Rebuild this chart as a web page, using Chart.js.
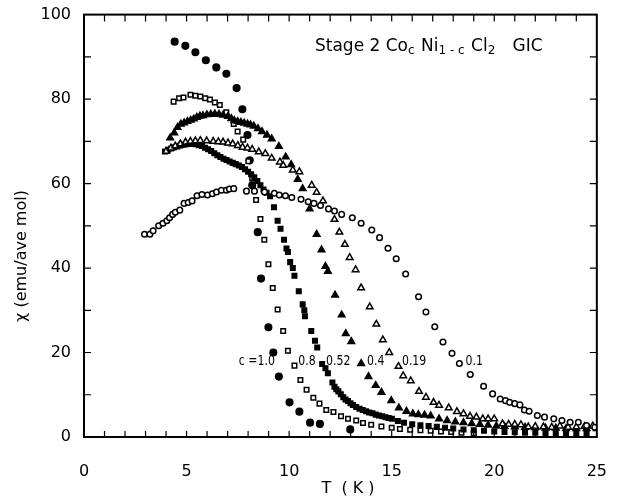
<!DOCTYPE html>
<html>
<head>
<meta charset="utf-8">
<script src="https://cdn.jsdelivr.net/npm/chart.js@4.4.1/dist/chart.umd.min.js"></script>
<style>
    html, body { margin: 0; padding: 0; background: #fff; }
    #wrap { width: 624px; height: 501px; position: relative; }
</style>
</head>
<body>
<div id="wrap"><canvas id="chart"></canvas></div>
<script>
// susceptibility vs temperature, one series per Co concentration c
const c10T = [4.42, 4.94, 5.43, 5.94, 6.45, 6.94, 7.44, 7.72, 7.97, 8.08, 8.2, 8.47, 8.63, 8.99, 9.23, 9.5, 10.02, 10.5, 11.02, 11.5, 12.98];
const c10X = [93.6, 92.6, 91.1, 89.2, 87.5, 86.0, 82.6, 77.6, 71.5, 65.5, 59.6, 48.5, 37.5, 26.0, 20.0, 14.3, 8.2, 6.0, 3.4, 3.1, 1.8];

const c08T = [4.37, 4.64, 4.85, 5.19, 5.43, 5.67, 5.91, 6.14, 6.38, 6.62, 6.94, 7.3, 7.49, 7.76, 8.01, 8.2, 8.39, 8.6, 8.79, 8.99, 9.2, 9.44, 9.71, 9.94, 10.26, 10.55, 10.85, 11.18, 11.48, 11.81, 12.16, 12.53, 12.87, 13.27, 13.6, 14.0, 14.5, 15.0, 15.4, 15.9, 16.4, 16.9, 17.4, 17.9, 18.4, 19.0];
const c08X = [79.4, 80.2, 80.4, 81.0, 80.8, 80.6, 80.2, 79.9, 79.2, 78.6, 76.9, 74.1, 72.3, 70.4, 65.3, 61.2, 56.1, 51.6, 46.7, 40.9, 35.3, 30.2, 25.1, 20.4, 16.9, 13.5, 11.2, 9.3, 7.9, 6.4, 5.9, 4.9, 4.3, 3.9, 3.3, 2.9, 2.5, 2.2, 1.9, 1.7, 1.6, 1.5, 1.3, 1.2, 1.0, 0.9];

const c052T = [3.95, 4.1, 4.25, 4.4, 4.55, 4.7, 4.85, 5.0, 5.15, 5.3, 5.45, 5.6, 5.75, 5.9, 6.05, 6.2, 6.35, 6.5, 6.65, 6.8, 6.95, 7.1, 7.25, 7.4, 7.55, 7.7, 7.85, 8.0, 8.15, 8.3, 8.45, 8.6, 8.75, 8.9, 9.07, 9.26, 9.44, 9.58, 9.75, 9.87, 9.94, 10.05, 10.18, 10.26, 10.47, 10.66, 10.74, 10.77, 11.08, 11.26, 11.37, 11.61, 11.77, 11.89, 12.11, 12.21, 12.3, 12.4, 12.52, 12.64, 12.75, 12.87, 12.99, 13.11, 13.27, 13.43, 13.59, 13.75, 13.9, 14.06, 14.22, 14.38, 14.54, 14.7, 14.85, 15.01, 15.3, 15.6, 16.0, 16.4, 16.8, 17.2, 17.6, 18.0, 18.5, 19.0, 19.5, 20.0, 20.5, 21.0, 21.5, 22.0, 22.5, 23.0, 23.5, 24.0, 24.5];
const c052X = [67.6, 68.0, 68.3, 68.6, 68.8, 69.0, 69.2, 69.3, 69.4, 69.4, 69.3, 69.1, 68.9, 68.5, 68.1, 67.7, 67.2, 66.7, 66.3, 65.9, 65.6, 65.2, 64.9, 64.6, 64.3, 63.9, 63.4, 62.8, 62.2, 61.5, 60.6, 59.6, 58.6, 57.8, 57.0, 54.4, 51.2, 49.3, 46.7, 44.6, 43.8, 41.4, 40.0, 38.2, 34.5, 31.4, 30.0, 28.6, 25.1, 22.8, 21.2, 17.3, 16.3, 15.1, 12.9, 11.9, 11.3, 10.8, 10.1, 9.4, 8.9, 8.5, 8.0, 7.6, 7.1, 6.7, 6.4, 6.1, 5.8, 5.6, 5.3, 5.1, 4.9, 4.7, 4.5, 4.3, 3.8, 3.4, 3.0, 2.8, 2.6, 2.4, 2.2, 2.0, 1.8, 1.6, 1.5, 1.3, 1.2, 1.1, 1.0, 1.0, 0.9, 0.9, 0.8, 0.8, 0.8];

const c04T = [4.2, 4.4, 4.56, 4.72, 4.88, 5.04, 5.2, 5.35, 5.5, 5.65, 5.8, 5.99, 6.18, 6.38, 6.58, 6.78, 7.02, 7.18, 7.33, 7.49, 7.65, 7.81, 7.97, 8.12, 8.28, 8.48, 8.68, 8.92, 9.15, 9.5, 9.83, 10.1, 10.42, 10.66, 11.0, 11.34, 11.58, 11.77, 11.89, 12.24, 12.56, 12.76, 13.03, 13.51, 13.87, 14.22, 14.5, 14.98, 15.35, 15.72, 16.03, 16.3, 16.6, 16.9, 17.31, 17.7, 18.1, 18.5, 18.9, 19.3, 19.7, 20.1, 20.5, 21.0, 21.5, 22.0, 22.5, 23.0, 23.5, 24.0, 24.5, 25.0];
const c04X = [70.8, 72.0, 73.3, 74.1, 74.4, 74.7, 75.0, 75.3, 75.7, 76.0, 76.1, 76.3, 76.4, 76.5, 76.4, 76.2, 75.9, 75.4, 74.9, 74.7, 74.5, 74.3, 74.1, 73.9, 73.6, 73.0, 72.3, 71.5, 70.6, 68.8, 66.3, 64.5, 61.0, 58.8, 54.0, 48.0, 44.3, 40.4, 39.2, 33.6, 28.9, 24.5, 22.6, 17.4, 14.3, 12.2, 10.6, 8.6, 6.9, 6.1, 5.5, 5.3, 5.2, 5.0, 4.3, 3.9, 3.6, 3.4, 3.2, 3.0, 2.8, 2.6, 2.5, 2.4, 2.3, 2.2, 2.1, 2.1, 2.0, 2.0, 2.0, 2.0];

const c019T = [4.0, 4.24, 4.45, 4.7, 4.95, 5.19, 5.43, 5.67, 5.98, 6.3, 6.55, 6.78, 7.02, 7.25, 7.5, 7.73, 7.97, 8.2, 8.52, 8.84, 9.15, 9.55, 9.71, 10.18, 10.5, 11.1, 11.34, 11.65, 12.21, 12.45, 12.72, 12.95, 13.24, 13.51, 13.93, 14.25, 14.57, 14.88, 15.33, 15.56, 15.93, 16.33, 16.67, 17.04, 17.31, 17.78, 18.18, 18.5, 18.82, 19.13, 19.44, 19.7, 20.0, 20.4, 20.7, 21.0, 21.3, 21.66, 22.0, 22.4, 22.8, 23.2, 23.6, 24.0, 24.4, 24.8];
const c019X = [67.6, 68.4, 68.9, 69.4, 69.8, 70.0, 70.1, 70.2, 70.1, 70.0, 69.9, 69.8, 69.6, 69.4, 69.0, 68.6, 68.4, 68.1, 67.5, 67.1, 66.0, 65.1, 64.3, 63.2, 62.8, 59.6, 57.9, 55.9, 51.5, 48.5, 45.6, 42.5, 39.6, 35.3, 30.8, 26.7, 23.0, 20.0, 16.7, 14.5, 13.3, 10.8, 9.4, 8.2, 7.5, 6.9, 6.0, 5.5, 4.9, 4.7, 4.3, 4.3, 4.3, 3.1, 3.0, 3.0, 2.9, 2.4, 2.5, 2.4, 2.3, 2.6, 2.3, 2.4, 2.5, 2.6];

const c01T = [2.95, 3.21, 3.37, 3.64, 3.85, 4.04, 4.17, 4.32, 4.45, 4.67, 4.88, 5.08, 5.27, 5.51, 5.75, 6.02, 6.26, 6.46, 6.7, 6.94, 7.09, 7.3, 7.92, 8.31, 8.8, 9.28, 9.52, 9.82, 10.13, 10.58, 10.93, 11.21, 11.53, 11.92, 12.21, 12.56, 13.08, 13.51, 14.03, 14.41, 14.82, 15.22, 15.68, 16.31, 16.67, 17.1, 17.5, 17.94, 18.3, 18.83, 19.48, 19.92, 20.29, 20.55, 20.75, 21.0, 21.25, 21.47, 21.7, 22.1, 22.45, 22.9, 23.3, 23.7, 24.1, 24.5, 24.9];
const c01X = [48.0, 48.0, 48.8, 50.0, 50.6, 51.2, 51.9, 52.7, 53.2, 53.7, 55.3, 55.5, 55.9, 57.1, 57.4, 57.3, 57.6, 58.0, 58.4, 58.4, 58.7, 58.8, 58.2, 58.2, 58.0, 57.7, 57.3, 57.1, 56.7, 56.3, 55.7, 55.3, 54.8, 54.0, 53.5, 52.7, 51.9, 50.6, 49.0, 47.2, 44.7, 42.2, 38.6, 33.2, 29.6, 26.1, 22.5, 19.8, 17.4, 14.8, 12.0, 10.2, 9.0, 8.6, 8.2, 7.9, 7.6, 6.4, 6.1, 5.1, 4.7, 4.3, 3.9, 3.5, 3.5, 2.7, 2.3];

const xTicks = [0, 5, 10, 15, 20, 25];
const yTicks = [0, 20, 40, 60, 80, 100];

const FONT = '"DejaVu Sans", sans-serif';

function points(ts, xs) {
    return ts.map((t, i) => ({ x: t, y: xs[i] }));
}

function series(label, ts, xs, style, filled, radius) {
    return {
        label: label,
        data: points(ts, xs),
        showLine: false,
        pointStyle: style,
        pointRadius: radius,
        pointHoverRadius: radius,
        pointBorderWidth: 1.5,
        pointBorderColor: '#000',
        pointBackgroundColor: filled ? '#000' : '#fff'
    };
}

// concentration labels placed beside each curve (data coordinates)
const curveLabels = [
    { text: 'c =1.0', t: 7.55, chi: 18.3 },
    { text: '0.8', t: 10.45, chi: 18.3 },
    { text: '0.52', t: 11.8, chi: 18.3 },
    { text: '0.4', t: 13.8, chi: 18.3 },
    { text: '0.19', t: 15.5, chi: 18.3 },
    { text: '0.1', t: 18.6, chi: 18.3 }
];

// frame, inward ticks, title text and axis titles
const decorations = {
    id: 'decorations',
    afterDatasetsDraw(chart) {
        const { ctx, chartArea: a, scales } = chart;
        const xs = scales.x, ys = scales.y;
        ctx.save();
        ctx.strokeStyle = '#000';
        ctx.lineWidth = 2;
        ctx.strokeRect(a.left, a.top, a.right - a.left, a.bottom - a.top);

        ctx.lineWidth = 1.2;
        ctx.beginPath();
        for (let t = 1; t < 25; t++) {
            const px = xs.getPixelForValue(t);
            ctx.moveTo(px, a.bottom); ctx.lineTo(px, a.bottom - 6);
            ctx.moveTo(px, a.top); ctx.lineTo(px, a.top + 7);
        }
        for (let v = 10; v < 100; v += 10) {
            const py = ys.getPixelForValue(v);
            ctx.moveTo(a.left, py); ctx.lineTo(a.left + 7, py);
            ctx.moveTo(a.right, py); ctx.lineTo(a.right - 7, py);
        }
        ctx.stroke();

        ctx.fillStyle = '#000';
        ctx.textBaseline = 'alphabetic';
        ctx.textAlign = 'left';

        // Stage 2 Co_c Ni_(1-c) Cl_2 GIC
        const parts = [
            ['Stage 2 Co', false], ['c', true], [' Ni', false], ['1 - c', true],
            [' Cl', false], ['2', true], ['   GIC', false]
        ];
        let x = 315, base = 51;
        parts.forEach(([s, sub]) => {
            ctx.font = sub ? '12px ' + FONT : '17px ' + FONT;
            ctx.fillText(s, x, sub ? base + 3 : base);
            x += ctx.measureText(s).width + (sub ? 1 : 0);
        });

        // narrow lettering for the curve labels
        ctx.font = '14px ' + FONT;
        curveLabels.forEach(l => {
            ctx.save();
            ctx.translate(xs.getPixelForValue(l.t), ys.getPixelForValue(l.chi) + 5);
            ctx.scale(0.78, 1);
            ctx.fillText(l.text, 0, 0);
            ctx.restore();
        });

        ctx.font = '16px ' + FONT;
        ctx.textAlign = 'center';
        ctx.fillText('T  ( K )', 348, 493);

        ctx.translate(22, 256);
        ctx.rotate(-Math.PI / 2);
        ctx.textBaseline = 'middle';
        ctx.fillText('χ (emu/ave mol)', 0, 0);
        ctx.restore();
    }
};

new Chart(document.getElementById('chart'), {
    type: 'scatter',
    data: {
        datasets: [
            series('c=0.1', c01T, c01X, 'circle', false, 2.8),
            series('c=0.19', c019T, c019X, 'triangle', false, 3.8),
            series('c=0.4', c04T, c04X, 'triangle', true, 3.8),
            series('c=0.52', c052T, c052X, 'rect', true, 3.2),
            series('c=0.8', c08T, c08X, 'rect', false, 3.2),
            series('c=1.0', c10T, c10X, 'circle', true, 3.3)
        ]
    },
    options: {
        responsive: true,
        maintainAspectRatio: false,
        animation: false,
        layout: { padding: { top: 12, right: 13, left: 0, bottom: 0 } },
        plugins: {
            legend: { display: false },
            tooltip: { enabled: false }
        },
        scales: {
            x: {
                type: 'linear',
                min: 0,
                max: 25,
                afterBuildTicks: (s) => { s.ticks = xTicks.map(v => ({ value: v })); },
                afterFit: (s) => { s.height = 64; },
                grid: { display: false },
                border: { display: false },
                ticks: { color: '#000', font: { family: FONT, size: 16 }, padding: 17, maxRotation: 0 }
            },
            y: {
                type: 'linear',
                min: 0,
                max: 100,
                afterBuildTicks: (s) => { s.ticks = yTicks.map(v => ({ value: v })); },
                afterFit: (s) => { s.width = 84; },
                grid: { display: false },
                border: { display: false },
                ticks: { color: '#000', font: { family: FONT, size: 16 }, padding: 5 }
            }
        }
    },
    plugins: [decorations]
});
</script>
</body>
</html>
